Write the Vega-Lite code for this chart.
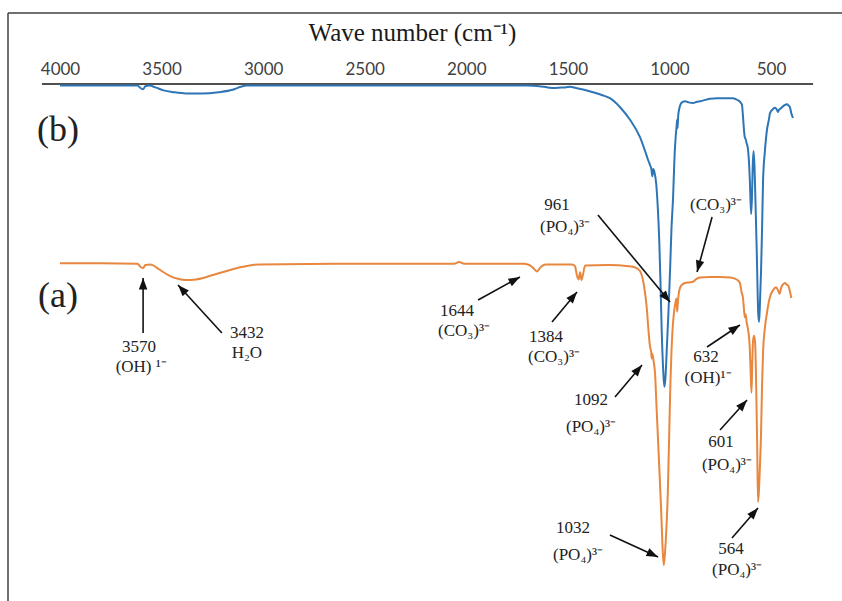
{
  "$schema": "https://vega.github.io/schema/vega-lite/v6.json",
  "width": 834,
  "height": 588,
  "autosize": {"type": "none"},
  "padding": {"left": 8, "top": 13, "right": 0, "bottom": 0},
  "background": "white",
  "config": {"view": {"stroke": null}},
  "datasets": {
    "spectra": [
      {"sample": "b", "wn": 4000, "T": 87.9}, {"sample": "b", "wn": 3800, "T": 87.9}, {"sample": "b", "wn": 3620, "T": 87.9},
      {"sample": "b", "wn": 3600, "T": 87.4}, {"sample": "b", "wn": 3590, "T": 87.3}, {"sample": "b", "wn": 3580, "T": 87.8},
      {"sample": "b", "wn": 3560, "T": 87.9}, {"sample": "b", "wn": 3530, "T": 87.6}, {"sample": "b", "wn": 3490, "T": 87.1},
      {"sample": "b", "wn": 3440, "T": 86.8}, {"sample": "b", "wn": 3380, "T": 86.6}, {"sample": "b", "wn": 3300, "T": 86.6},
      {"sample": "b", "wn": 3220, "T": 86.8}, {"sample": "b", "wn": 3150, "T": 87.2}, {"sample": "b", "wn": 3110, "T": 87.7},
      {"sample": "b", "wn": 3080, "T": 87.9}, {"sample": "b", "wn": 2500, "T": 87.9}, {"sample": "b", "wn": 2000, "T": 87.9},
      {"sample": "b", "wn": 1700, "T": 87.9}, {"sample": "b", "wn": 1640, "T": 87.8}, {"sample": "b", "wn": 1600, "T": 87.6},
      {"sample": "b", "wn": 1560, "T": 87.5}, {"sample": "b", "wn": 1520, "T": 87.6}, {"sample": "b", "wn": 1490, "T": 87.7},
      {"sample": "b", "wn": 1460, "T": 87.5}, {"sample": "b", "wn": 1420, "T": 87.2}, {"sample": "b", "wn": 1376, "T": 86.8},
      {"sample": "b", "wn": 1330, "T": 86.3}, {"sample": "b", "wn": 1293, "T": 85.8}, {"sample": "b", "wn": 1243, "T": 84.3},
      {"sample": "b", "wn": 1194, "T": 82.2}, {"sample": "b", "wn": 1145, "T": 79.3}, {"sample": "b", "wn": 1120, "T": 77.0},
      {"sample": "b", "wn": 1105, "T": 75.5}, {"sample": "b", "wn": 1096, "T": 74.7}, {"sample": "b", "wn": 1089, "T": 74.0},
      {"sample": "b", "wn": 1084, "T": 72.8}, {"sample": "b", "wn": 1080, "T": 74.0}, {"sample": "b", "wn": 1074, "T": 73.5},
      {"sample": "b", "wn": 1065, "T": 71.5}, {"sample": "b", "wn": 1058, "T": 68.0}, {"sample": "b", "wn": 1050, "T": 62.0},
      {"sample": "b", "wn": 1044, "T": 55.0}, {"sample": "b", "wn": 1038, "T": 47.0}, {"sample": "b", "wn": 1030, "T": 40.0},
      {"sample": "b", "wn": 1025, "T": 37.7}, {"sample": "b", "wn": 1020, "T": 39.0}, {"sample": "b", "wn": 1013, "T": 44.0},
      {"sample": "b", "wn": 1005, "T": 50.0}, {"sample": "b", "wn": 997, "T": 57.0}, {"sample": "b", "wn": 990, "T": 64.0},
      {"sample": "b", "wn": 982, "T": 69.3}, {"sample": "b", "wn": 975, "T": 76.0}, {"sample": "b", "wn": 969, "T": 79.5},
      {"sample": "b", "wn": 965, "T": 81.0}, {"sample": "b", "wn": 962, "T": 82.2}, {"sample": "b", "wn": 960, "T": 80.8},
      {"sample": "b", "wn": 957, "T": 82.8}, {"sample": "b", "wn": 952, "T": 84.0}, {"sample": "b", "wn": 945, "T": 84.8},
      {"sample": "b", "wn": 935, "T": 85.2}, {"sample": "b", "wn": 923, "T": 85.3}, {"sample": "b", "wn": 905, "T": 85.1},
      {"sample": "b", "wn": 884, "T": 85.0}, {"sample": "b", "wn": 865, "T": 85.2}, {"sample": "b", "wn": 849, "T": 85.3},
      {"sample": "b", "wn": 800, "T": 85.7}, {"sample": "b", "wn": 766, "T": 85.8}, {"sample": "b", "wn": 720, "T": 85.8},
      {"sample": "b", "wn": 687, "T": 85.8}, {"sample": "b", "wn": 665, "T": 85.5}, {"sample": "b", "wn": 650, "T": 85.1},
      {"sample": "b", "wn": 643, "T": 84.7}, {"sample": "b", "wn": 638, "T": 82.8}, {"sample": "b", "wn": 633, "T": 80.5},
      {"sample": "b", "wn": 629, "T": 79.3}, {"sample": "b", "wn": 625, "T": 79.0}, {"sample": "b", "wn": 620, "T": 78.3},
      {"sample": "b", "wn": 615, "T": 77.7}, {"sample": "b", "wn": 610, "T": 76.0}, {"sample": "b", "wn": 604, "T": 72.0},
      {"sample": "b", "wn": 598, "T": 66.5}, {"sample": "b", "wn": 594, "T": 69.0}, {"sample": "b", "wn": 590, "T": 74.5},
      {"sample": "b", "wn": 586, "T": 77.0}, {"sample": "b", "wn": 582, "T": 75.0}, {"sample": "b", "wn": 576, "T": 68.0},
      {"sample": "b", "wn": 570, "T": 60.0}, {"sample": "b", "wn": 563, "T": 50.0}, {"sample": "b", "wn": 559, "T": 48.5},
      {"sample": "b", "wn": 555, "T": 51.0}, {"sample": "b", "wn": 549, "T": 57.0}, {"sample": "b", "wn": 544, "T": 64.0},
      {"sample": "b", "wn": 539, "T": 72.2}, {"sample": "b", "wn": 530, "T": 77.0}, {"sample": "b", "wn": 520, "T": 80.5},
      {"sample": "b", "wn": 510, "T": 82.3}, {"sample": "b", "wn": 505, "T": 83.3}, {"sample": "b", "wn": 490, "T": 84.0},
      {"sample": "b", "wn": 480, "T": 84.2}, {"sample": "b", "wn": 470, "T": 83.8}, {"sample": "b", "wn": 466, "T": 83.5},
      {"sample": "b", "wn": 460, "T": 83.9}, {"sample": "b", "wn": 452, "T": 84.1}, {"sample": "b", "wn": 446, "T": 84.3},
      {"sample": "b", "wn": 435, "T": 84.6}, {"sample": "b", "wn": 421, "T": 84.8}, {"sample": "b", "wn": 414, "T": 84.6},
      {"sample": "b", "wn": 407, "T": 84.3}, {"sample": "b", "wn": 400, "T": 83.3}, {"sample": "b", "wn": 392, "T": 82.5},

      {"sample": "a", "wn": 4000, "T": 58.3}, {"sample": "a", "wn": 3800, "T": 58.3}, {"sample": "a", "wn": 3620, "T": 58.2},
      {"sample": "a", "wn": 3600, "T": 57.6}, {"sample": "a", "wn": 3590, "T": 57.5}, {"sample": "a", "wn": 3580, "T": 58.0},
      {"sample": "a", "wn": 3555, "T": 58.1}, {"sample": "a", "wn": 3530, "T": 57.7}, {"sample": "a", "wn": 3500, "T": 57.0},
      {"sample": "a", "wn": 3460, "T": 56.2}, {"sample": "a", "wn": 3420, "T": 55.7}, {"sample": "a", "wn": 3380, "T": 55.5},
      {"sample": "a", "wn": 3330, "T": 55.6}, {"sample": "a", "wn": 3260, "T": 56.2}, {"sample": "a", "wn": 3180, "T": 57.0},
      {"sample": "a", "wn": 3100, "T": 57.7}, {"sample": "a", "wn": 3020, "T": 58.1}, {"sample": "a", "wn": 2500, "T": 58.2},
      {"sample": "a", "wn": 2060, "T": 58.2}, {"sample": "a", "wn": 2035, "T": 58.5}, {"sample": "a", "wn": 2010, "T": 58.2},
      {"sample": "a", "wn": 1720, "T": 58.2}, {"sample": "a", "wn": 1690, "T": 58.0}, {"sample": "a", "wn": 1665, "T": 57.3},
      {"sample": "a", "wn": 1652, "T": 56.9}, {"sample": "a", "wn": 1635, "T": 57.6}, {"sample": "a", "wn": 1610, "T": 58.1},
      {"sample": "a", "wn": 1480, "T": 58.1}, {"sample": "a", "wn": 1465, "T": 57.8}, {"sample": "a", "wn": 1455, "T": 56.2},
      {"sample": "a", "wn": 1447, "T": 55.6}, {"sample": "a", "wn": 1440, "T": 56.8}, {"sample": "a", "wn": 1433, "T": 55.5},
      {"sample": "a", "wn": 1425, "T": 56.5}, {"sample": "a", "wn": 1415, "T": 57.9}, {"sample": "a", "wn": 1300, "T": 58.0},
      {"sample": "a", "wn": 1200, "T": 57.8}, {"sample": "a", "wn": 1170, "T": 57.6}, {"sample": "a", "wn": 1145, "T": 57.0},
      {"sample": "a", "wn": 1125, "T": 54.5}, {"sample": "a", "wn": 1112, "T": 51.0}, {"sample": "a", "wn": 1104, "T": 47.5},
      {"sample": "a", "wn": 1096, "T": 44.5}, {"sample": "a", "wn": 1090, "T": 43.5}, {"sample": "a", "wn": 1087, "T": 42.4},
      {"sample": "a", "wn": 1084, "T": 43.2}, {"sample": "a", "wn": 1078, "T": 42.0}, {"sample": "a", "wn": 1071, "T": 40.0},
      {"sample": "a", "wn": 1063, "T": 34.0}, {"sample": "a", "wn": 1056, "T": 28.8}, {"sample": "a", "wn": 1047, "T": 22.0},
      {"sample": "a", "wn": 1040, "T": 16.5}, {"sample": "a", "wn": 1034, "T": 11.0}, {"sample": "a", "wn": 1028, "T": 8.0},
      {"sample": "a", "wn": 1022, "T": 10.0}, {"sample": "a", "wn": 1015, "T": 14.0}, {"sample": "a", "wn": 1008, "T": 20.0},
      {"sample": "a", "wn": 1001, "T": 30.0}, {"sample": "a", "wn": 995, "T": 38.5}, {"sample": "a", "wn": 990, "T": 43.5},
      {"sample": "a", "wn": 985, "T": 47.0}, {"sample": "a", "wn": 978, "T": 50.0}, {"sample": "a", "wn": 970, "T": 51.8},
      {"sample": "a", "wn": 965, "T": 52.4}, {"sample": "a", "wn": 962, "T": 50.2}, {"sample": "a", "wn": 959, "T": 51.5},
      {"sample": "a", "wn": 955, "T": 53.0}, {"sample": "a", "wn": 948, "T": 54.2}, {"sample": "a", "wn": 935, "T": 54.8},
      {"sample": "a", "wn": 923, "T": 55.0}, {"sample": "a", "wn": 900, "T": 55.1}, {"sample": "a", "wn": 884, "T": 55.2},
      {"sample": "a", "wn": 870, "T": 55.6}, {"sample": "a", "wn": 850, "T": 55.9}, {"sample": "a", "wn": 800, "T": 56.0},
      {"sample": "a", "wn": 750, "T": 56.0}, {"sample": "a", "wn": 700, "T": 55.9}, {"sample": "a", "wn": 665, "T": 55.5},
      {"sample": "a", "wn": 653, "T": 55.0}, {"sample": "a", "wn": 645, "T": 53.5}, {"sample": "a", "wn": 638, "T": 52.5},
      {"sample": "a", "wn": 633, "T": 50.6}, {"sample": "a", "wn": 629, "T": 49.3}, {"sample": "a", "wn": 625, "T": 49.8},
      {"sample": "a", "wn": 620, "T": 48.5}, {"sample": "a", "wn": 612, "T": 47.0}, {"sample": "a", "wn": 605, "T": 44.5},
      {"sample": "a", "wn": 600, "T": 40.0}, {"sample": "a", "wn": 596, "T": 36.7}, {"sample": "a", "wn": 592, "T": 42.0},
      {"sample": "a", "wn": 588, "T": 45.5}, {"sample": "a", "wn": 583, "T": 46.2}, {"sample": "a", "wn": 578, "T": 45.0},
      {"sample": "a", "wn": 573, "T": 38.0}, {"sample": "a", "wn": 568, "T": 28.0}, {"sample": "a", "wn": 564, "T": 18.5},
      {"sample": "a", "wn": 560, "T": 20.0}, {"sample": "a", "wn": 555, "T": 24.0}, {"sample": "a", "wn": 549, "T": 30.0},
      {"sample": "a", "wn": 544, "T": 38.0}, {"sample": "a", "wn": 539, "T": 43.5}, {"sample": "a", "wn": 530, "T": 47.5},
      {"sample": "a", "wn": 520, "T": 50.0}, {"sample": "a", "wn": 505, "T": 52.7}, {"sample": "a", "wn": 490, "T": 53.8},
      {"sample": "a", "wn": 475, "T": 54.3}, {"sample": "a", "wn": 466, "T": 53.8}, {"sample": "a", "wn": 458, "T": 53.2},
      {"sample": "a", "wn": 450, "T": 54.2}, {"sample": "a", "wn": 440, "T": 54.8}, {"sample": "a", "wn": 431, "T": 55.0},
      {"sample": "a", "wn": 422, "T": 54.7}, {"sample": "a", "wn": 416, "T": 54.6}, {"sample": "a", "wn": 408, "T": 53.8},
      {"sample": "a", "wn": 400, "T": 52.5}
    ],
    "axisline": [
      {"x1": 4089, "x2": 293, "y1": 88.17, "y2": 88.17}
    ],
    "frame": [
      {"side": "top", "x1": 4256, "x2": 150.5, "y1": 100, "y2": 100},
      {"side": "left", "x1": 4256, "x2": 4256, "y1": 2, "y2": 100}
    ],
    "arrows": [
      {"peak": "3570", "w1": 3591, "v1": 46.67, "w2": 3591, "v2": 55.83},
      {"peak": "3432", "w1": 3203, "v1": 46.67, "w2": 3419, "v2": 54.67},
      {"peak": "1644", "w1": 1942, "v1": 52.17, "w2": 1736, "v2": 56.0},
      {"peak": "1384", "w1": 1578, "v1": 48.5, "w2": 1455, "v2": 53.5},
      {"peak": "961", "w1": 1352, "v1": 66.33, "w2": 997, "v2": 51.83},
      {"peak": "CO3", "w1": 790, "v1": 66.0, "w2": 864, "v2": 56.83},
      {"peak": "1092", "w1": 1268, "v1": 36.0, "w2": 1135, "v2": 41.33},
      {"peak": "1032", "w1": 1293, "v1": 13.0, "w2": 1056, "v2": 9.33},
      {"peak": "632", "w1": 815, "v1": 44.33, "w2": 653, "v2": 48.0},
      {"peak": "601", "w1": 751, "v1": 30.5, "w2": 618, "v2": 35.5},
      {"peak": "564", "w1": 692, "v1": 12.5, "w2": 564, "v2": 17.5}
    ],
    "notes": [
      {"text": "3570", "wn": 3611, "T": 44.3},
      {"text": "(OH) ¹⁻", "wn": 3600, "T": 41.0},
      {"text": "3432", "wn": 3080, "T": 46.6},
      {"text": "H₂O", "wn": 3080, "T": 43.3},
      {"text": "1644", "wn": 2046, "T": 50.4},
      {"text": "(CO₃)³⁻", "wn": 2011, "T": 47.0},
      {"text": "1384", "wn": 1608, "T": 46.0},
      {"text": "(CO₃)³⁻", "wn": 1568, "T": 42.67},
      {"text": "961", "wn": 1554, "T": 68.0},
      {"text": "(PO₄)³⁻", "wn": 1514, "T": 64.33},
      {"text": "(CO₃)³⁻", "wn": 771, "T": 68.0},
      {"text": "1092", "wn": 1386, "T": 35.5},
      {"text": "(PO₄)³⁻", "wn": 1386, "T": 31.0},
      {"text": "1032", "wn": 1475, "T": 14.17},
      {"text": "(PO₄)³⁻", "wn": 1450, "T": 9.67},
      {"text": "632", "wn": 820, "T": 42.6},
      {"text": "(OH)¹⁻", "wn": 810, "T": 39.17},
      {"text": "601", "wn": 746, "T": 28.5},
      {"text": "(PO₄)³⁻", "wn": 717, "T": 24.67},
      {"text": "564", "wn": 697, "T": 10.7},
      {"text": "(PO₄)³⁻", "wn": 667, "T": 7.17}
    ],
    "panels": [
      {"text": "(b)", "wn": 4010, "T": 80.5},
      {"text": "(a)", "wn": 4010, "T": 52.83}
    ]
  },
  "layer": [
    {
      "data": {"name": "frame"},
      "mark": {"type": "rule", "color": "#404040", "strokeWidth": 1.5},
      "encoding": {
        "x": {"field": "x1", "type": "quantitative", "title": "Wave number (cm⁻¹)"},
        "x2": {"field": "x2"},
        "y": {"field": "y1", "type": "quantitative", "axis": null},
        "y2": {"field": "y2"}
      }
    },
    {
      "data": {"name": "axisline"},
      "mark": {"type": "rule", "color": "#505050", "strokeWidth": 2},
      "encoding": {
        "x": {"field": "x1", "type": "quantitative", "title": "Wave number (cm⁻¹)"},
        "x2": {"field": "x2"},
        "y": {"field": "y1", "type": "quantitative", "axis": null},
        "y2": {"field": "y2"}
      }
    },
    {
      "data": {"name": "spectra"},
      "mark": {"type": "line", "strokeWidth": 2, "interpolate": "monotone"},
      "encoding": {
        "x": {
          "field": "wn", "type": "quantitative",
          "scale": {"domain": [150.5, 4256], "reverse": true, "nice": false, "zero": false},
          "axis": {
            "orient": "top", "offset": -71,
            "values": [4000, 3500, 3000, 2500, 2000, 1500, 1000, 500],
            "format": "d", "domain": false, "ticks": false, "tickSize": 0, "grid": false,
            "labelFont": "Lato", "labelFontSize": 17, "labelColor": "#404040",
            "labelBaseline": "middle", "labelPadding": 15, "labelFlush": false, "labelOverlap": false,
            "title": "Wave number (cm⁻¹)", "titleFont": "Liberation Serif", "titleFontSize": 25,
            "titleFontWeight": "normal", "titleColor": "#1a1a1a", "titleBaseline": "middle",
            "titleY": -52, "titleX": 404, "titleAlign": "center"
          }
        },
        "y": {"field": "T", "type": "quantitative", "scale": {"domain": [2, 100], "nice": false, "zero": false}, "axis": null},
        "color": {"field": "sample", "type": "nominal", "scale": {"domain": ["a", "b"], "range": ["#E8873F", "#2E75B6"]}, "legend": null},
        "detail": {"field": "sample"}
      }
    },
    {
      "data": {"name": "arrows"},
      "mark": {"type": "rule", "color": "#111111", "strokeWidth": 1.6},
      "encoding": {
        "x": {"field": "w1", "type": "quantitative", "title": "Wave number (cm⁻¹)"},
        "y": {"field": "v1", "type": "quantitative", "axis": null},
        "x2": {"field": "w2"},
        "y2": {"field": "v2"}
      }
    },
    {
      "data": {"name": "arrows"},
      "transform": [
        {"calculate": "atan2(-(datum.w2 - datum.w1) * 0.20314, (datum.v2 - datum.v1) * 6) * 180 / PI", "as": "ang"}
      ],
      "mark": {"type": "point", "shape": "M0,0L-0.85,2.3L0.85,2.3Z", "filled": true, "color": "#111111", "opacity": 1, "size": 100, "strokeWidth": 0},
      "encoding": {
        "x": {"field": "w2", "type": "quantitative", "title": "Wave number (cm⁻¹)"},
        "y": {"field": "v2", "type": "quantitative", "axis": null},
        "angle": {"field": "ang", "type": "quantitative", "scale": null}
      }
    },
    {
      "data": {"name": "notes"},
      "mark": {"type": "text", "font": "Liberation Serif", "fontSize": 17, "color": "#222222", "align": "center", "baseline": "middle"},
      "encoding": {
        "x": {"field": "wn", "type": "quantitative", "title": "Wave number (cm⁻¹)"},
        "y": {"field": "T", "type": "quantitative", "axis": null},
        "text": {"field": "text"}
      }
    },
    {
      "data": {"name": "panels"},
      "mark": {"type": "text", "font": "Liberation Serif", "fontSize": 36, "color": "#222222", "align": "center", "baseline": "middle"},
      "encoding": {
        "x": {"field": "wn", "type": "quantitative", "title": "Wave number (cm⁻¹)"},
        "y": {"field": "T", "type": "quantitative", "axis": null},
        "text": {"field": "text"}
      }
    }
  ]
}
